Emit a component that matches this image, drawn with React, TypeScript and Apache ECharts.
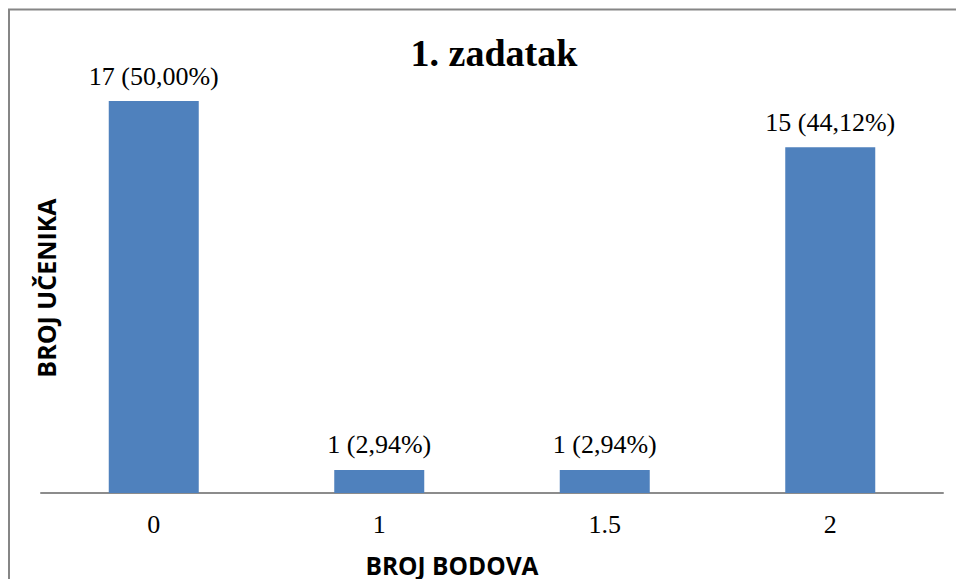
import React, { useEffect, useRef } from "react";
import * as echarts from "echarts";

const categories = ["0", "1", "1.5", "2"];
const counts = [17, 1, 1, 15];
const percents = ["50,00%", "2,94%", "2,94%", "44,12%"];
const titleText = "1. zadatak";
const xAxisTitle = "BROJ BODOVA";
const yAxisTitle = "BROJ UČENIKA";

export default function App() {
  const ref = useRef<HTMLDivElement>(null);
  useEffect(() => {
    document.body.style.margin = "0";
    if (!ref.current) return;
    const chart = echarts.init(ref.current, null, { renderer: "svg" });
    chart.setOption({
      animation: false,
      backgroundColor: "#ffffff",
      title: {
        text: titleText,
        left: 489,
        textAlign: "center",
        top: 29,
        textStyle: {
          fontFamily: "'Liberation Serif', 'Times New Roman', serif",
          fontWeight: "bold",
          fontSize: 38,
          color: "#000000",
        },
      },
      graphic: [
        {
          type: "rect",
          shape: { x: 9, y: 9.5, width: 1000, height: 700 },
          style: { fill: "none", stroke: "#868686", lineWidth: 2 },
          silent: true,
          z: -1,
        },
        {
          type: "text",
          x: 46,
          y: 288,
          rotation: Math.PI / 2,
          style: {
            text: yAxisTitle,
            fontFamily: "'Open Sans', sans-serif",
            fontWeight: "bold",
            fontSize: 25,
            lineHeight: 25,
            fill: "#000000",
            align: "center",
            verticalAlign: "middle",
          },
        },
        {
          type: "text",
          x: 452,
          y: 565,
          style: {
            text: xAxisTitle,
            fontFamily: "'Open Sans', sans-serif",
            fontWeight: "bold",
            fontSize: 24.5,
            lineHeight: 24,
            fill: "#000000",
            align: "center",
            verticalAlign: "middle",
          },
        },
      ],
      grid: { left: 41, right: 13, top: 78, bottom: 86, containLabel: false },
      xAxis: {
        type: "category",
        data: categories,
        axisLine: { lineStyle: { color: "#8c8c8c", width: 2 } },
        axisTick: { show: false },
        axisLabel: {
          margin: 18,
          fontFamily: "'Liberation Serif', 'Times New Roman', serif",
          fontSize: 26,
          color: "#000000",
        },
      },
      yAxis: {
        type: "value",
        min: 0,
        max: 18,
        show: false,
        splitLine: { show: false },
      },
      series: [
        {
          type: "bar",
          data: counts,
          barWidth: 90,
          itemStyle: { color: "#4f81bd" },
          label: {
            show: true,
            position: "top",
            distance: 12,
            formatter: (p: any) => `${p.value} (${percents[p.dataIndex]})`,
            fontFamily: "'Liberation Serif', 'Times New Roman', serif",
            fontSize: 26,
            color: "#000000",
          },
        },
      ],
    });
    return () => chart.dispose();
  }, []);
  return <div ref={ref} style={{ width: 956, height: 579 }} />;
}
